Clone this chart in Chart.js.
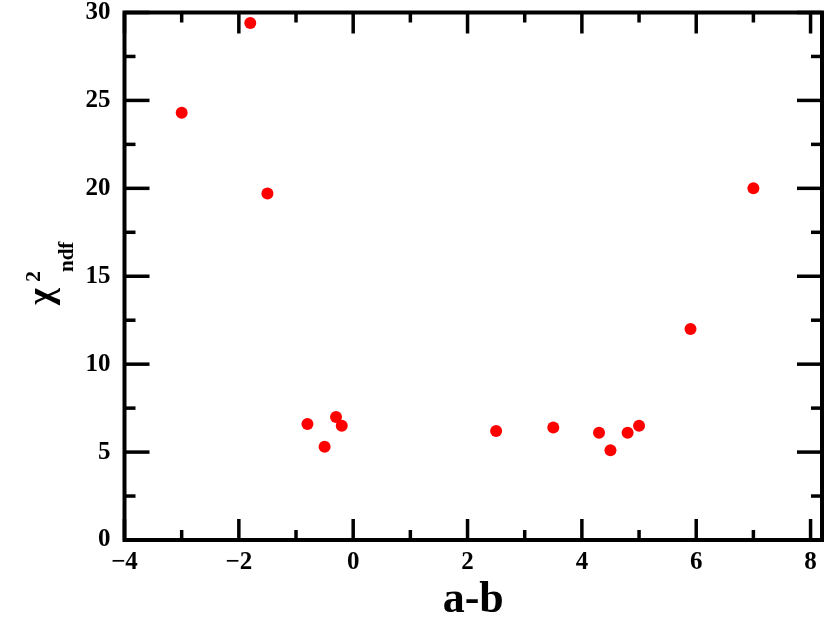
<!DOCTYPE html>
<html>
<head>
<meta charset="utf-8">
<script src="https://cdn.jsdelivr.net/npm/chart.js@4/dist/chart.umd.min.js"></script>
<style>
html,body{margin:0;padding:0;background:#fff;}
#c{display:block;}
</style>
</head>
<body>
<canvas id="c" width="830" height="622"></canvas>
<script>
const abValues = [-3.0, -1.8, -1.5, -0.8, -0.5, -0.3, -0.2, 2.5, 3.5, 4.3, 4.5, 4.8, 5.0, 5.9, 7.0];
const chi2Values = [24.3, 29.4, 19.7, 6.6, 5.3, 7.0, 6.5, 6.2, 6.4, 6.1, 5.1, 6.1, 6.5, 12.0, 20.0];
const xMajorTicks = [-4, -2, 0, 2, 4, 6, 8];
const xMinorTicks = [-3, -1, 1, 3, 5, 7];
const yMajorTicks = [0, 5, 10, 15, 20, 25, 30];
const yMinorTicks = [2.5, 7.5, 12.5, 17.5, 22.5, 27.5];
const xTitle = "a-b";

const SERIF = '"Liberation Serif", "DejaVu Serif", serif';

const points = abValues.map((x, i) => ({x: x, y: chi2Values[i]}));

const framePlugin = {
  id: 'frame',
  afterDraw(chart) {
    const ctx = chart.ctx;
    const a = chart.chartArea;
    const xs = chart.scales.x, ys = chart.scales.y;
    ctx.save();
    ctx.strokeStyle = '#000';
    ctx.lineCap = 'butt';
    ctx.lineWidth = 3.5;
    const drawX = (vals, len) => {
      vals.forEach(v => {
        const px = xs.getPixelForValue(v);
        ctx.beginPath(); ctx.moveTo(px, a.bottom); ctx.lineTo(px, a.bottom - len); ctx.stroke();
        ctx.beginPath(); ctx.moveTo(px, a.top); ctx.lineTo(px, a.top + len); ctx.stroke();
      });
    };
    const drawY = (vals, len) => {
      vals.forEach(v => {
        const py = ys.getPixelForValue(v);
        ctx.beginPath(); ctx.moveTo(a.left, py); ctx.lineTo(a.left + len, py); ctx.stroke();
        ctx.beginPath(); ctx.moveTo(a.right, py); ctx.lineTo(a.right - len, py); ctx.stroke();
      });
    };
    drawX(xMajorTicks, 21);
    drawX(xMinorTicks, 10);
    drawY(yMajorTicks, 25);
    drawY(yMinorTicks, 11);
    ctx.lineWidth = 4;
    ctx.strokeRect(a.left, a.top, a.right - a.left, a.bottom - a.top);

    // x title
    ctx.fillStyle = '#000';
    ctx.font = 'bold 44px ' + SERIF;
    ctx.textAlign = 'center';
    ctx.textBaseline = 'alphabetic';
    ctx.fillText(xTitle, (a.left + a.right) / 2, 612);

    // y title: chi^2_ndf rotated
    ctx.save();
    ctx.translate(0, 305);
    ctx.rotate(-Math.PI / 2);
    ctx.textAlign = 'left';
    ctx.font = 'bold 36px ' + SERIF;
    ctx.fillText('χ', 0, 52);
    ctx.font = 'bold 22px ' + SERIF;
    ctx.fillText('2', 23, 40);
    ctx.font = 'bold 21px ' + SERIF;
    ctx.fillText('ndf', 33, 73);
    ctx.restore();
    ctx.restore();
  }
};

const fmt = v => (v < 0 ? '\u2212' + Math.abs(v) : String(v));

new Chart(document.getElementById('c'), {
  type: 'scatter',
  data: {
    datasets: [{
      data: points,
      backgroundColor: '#ff0000',
      borderColor: '#ff0000',
      pointRadius: 6,
      pointHoverRadius: 6,
      borderWidth: 0
    }]
  },
  options: {
    responsive: false,
    animation: false,
    devicePixelRatio: 1,
    layout: {padding: {top: 12.5, right: 8, left: 0, bottom: 0}},
    plugins: {legend: {display: false}, tooltip: {enabled: false}},
    scales: {
      x: {
        type: 'linear',
        min: -4, max: 8.2,
        grid: {display: false},
        border: {display: false},
        ticks: {
          stepSize: 2, includeBounds: false, padding: 0,
          color: '#000',
          font: {family: SERIF, size: 25, weight: 'bold'},
          callback: v => fmt(v)
        },
        afterFit: s => { s.height = 82; s.paddingLeft = 0; s.paddingRight = 0; }
      },
      y: {
        type: 'linear',
        min: 0, max: 30,
        grid: {display: false},
        border: {display: false},
        ticks: {
          stepSize: 5, includeBounds: false, padding: 6,
          color: '#000',
          font: {family: SERIF, size: 25, weight: 'bold'},
          callback: v => fmt(v)
        },
        afterFit: s => { s.width = 124.5; s.paddingTop = 0; s.paddingBottom = 0; }
      }
    }
  },
  plugins: [framePlugin]
});
</script>
</body>
</html>
